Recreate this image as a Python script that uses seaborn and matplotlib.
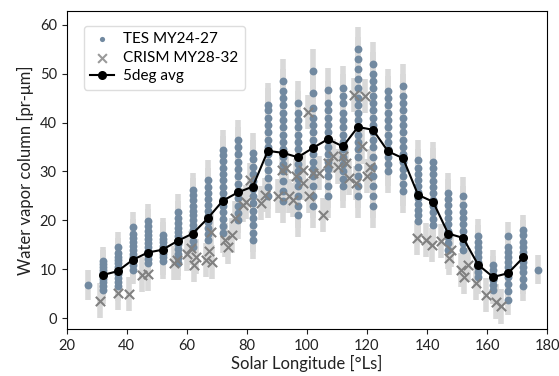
import numpy as np
import pandas as pd
import matplotlib
matplotlib.use("Agg")
import matplotlib.pyplot as plt
import seaborn as sns

# TES columns (Ls bin centre -> water vapor values)
tes_ls = [27, 32, 37, 42, 47, 52, 57, 62, 67, 72, 77, 82, 87, 92, 97, 102,
          107, 112, 117, 122, 127, 132, 137, 142, 147, 152, 157, 162, 167, 172, 177]
tes_wv = [
    [6.8],
    [5.8, 6.5, 7.3, 8.0, 8.6, 9.2, 9.8, 10.5, 11.0, 11.6],
    [6.5, 7.3, 8.2, 9.0, 9.8, 10.5, 11.2, 11.9, 12.6, 13.4, 14.6],
    [9.9, 10.8, 11.6, 12.4, 13.2, 14.0, 14.8, 15.6, 16.4, 17.3, 18.7],
    [11.2, 12.1, 13.0, 13.8, 14.6, 15.4, 16.2, 17.0, 17.8, 18.8, 19.8],
    [11.6, 12.4, 13.2, 14.0, 14.8, 15.5, 16.2, 17],
    [11.2, 12.2, 13.2, 14.2, 15.2, 16.0, 16.8, 17.6, 18.5, 19.5, 20.5, 21.8],
    [14.6, 15.8, 16.9, 18.0, 19.0, 20.0, 21.0, 22.0, 23.0, 24.2, 25.2, 26.2],
    [16, 17.2, 18.4, 19.6, 20.8, 22, 23.2, 24.4, 25.6, 26.8, 28.3],
    [17.4, 18.8, 20.2, 21.6, 23, 24.3, 25.6, 26.9, 28.2, 29.5, 30.8, 32.2, 33.3, 34.4],
    [20.1, 21.5, 23, 24.5, 26, 27.5, 29, 30.5, 32, 33.5, 35, 36.5],
    [16, 17.5, 19, 20.5, 22, 23.5, 25, 26.5, 28, 29.5, 31, 32.5, 33.8],
    [25, 26.8, 28.6, 30.3, 32, 33.5, 35, 36.5, 38, 39.5, 41, 42.5, 43.5],
    [24, 26, 28, 30, 31.5, 33, 34.5, 36, 37.5, 39, 40.5, 42, 43.5, 45, 46.5, 48.5],
    [21, 23, 25, 27, 28.5, 30, 31.5, 33, 34.5, 36, 37.5, 39, 40.5, 42, 44],
    [23, 25, 27, 29, 30.5, 32, 33.5, 35, 36.5, 38, 39.5, 41, 43, 46, 50.5],
    [25, 27, 29, 30.5, 32, 33.5, 35, 36.5, 38, 39.5, 41, 42.5, 44, 46.6],
    [27, 28.5, 30, 31.5, 33, 34.5, 36, 37.5, 39, 40.5, 42, 44, 45.5, 47],
    [25, 27, 29, 31, 33, 34.5, 36, 37.5, 39, 40.5, 42, 43.5, 45, 47, 49, 51, 53, 55],
    [23, 25, 27, 29, 31, 33, 35, 36.5, 38, 39.5, 41, 42.5, 44, 45.5, 47, 48.5, 50, 52],
    [30, 31.5, 33, 34.5, 36, 37.5, 39, 40.5, 42, 43.5, 45, 46.5],
    [26, 27.5, 29, 30.5, 32, 33.5, 35, 36.5, 38, 39.5, 41, 42.5, 44, 45.5, 47.5],
    [19.8, 21, 22.2, 23.4, 24.6, 25.8, 27, 28.2, 29.4, 30.6, 32.4],
    [19, 20.3, 21.6, 22.9, 24.2, 25.5, 26.8, 28.1, 29.4, 30.7, 32],
    [14, 15.3, 16.6, 17.9, 19.2, 20.5, 21.8, 23.1, 24.4, 25.6],
    [14, 15.3, 16.6, 17.9, 19.2, 20.5, 21.8, 23.1, 24.9],
    [8.5, 9.5, 10.5, 11.5, 12.5, 13.5, 14.5, 15.5, 16.7],
    [5.8, 6.8, 7.8, 8.8, 9.8, 10.9],
    [3.7, 5.5, 7, 8.5, 9.5, 10.5, 11.5, 12.5, 13.5, 14.5, 16.7],
    [6.5, 8, 9.5, 10.5, 11.5, 12.5, 13.5, 14.5, 15.5, 17, 18],
    [9.9],
]
tes_err = [3, 3, 3, 3, 3.5, 3.5, 3.5, 3.5, 4, 4, 4, 4, 4.5, 4.5, 4.5, 4.5,
           4.5, 4.5, 4.5, 4.5, 4.5, 4.5, 4, 4, 4, 4, 3.5, 3, 3, 3, 3]

# CRISM points
crism_ls = [31.2, 37.1, 40.8, 45.0, 47.2, 55.8, 56.8, 60.2, 61.5, 62.5, 63.2,
            66.5, 67.3, 68.5, 68.2, 72.6, 73.7, 75.0, 76.0, 78.7, 79.8, 81.0,
            84.8, 86.0, 90.3, 91.8, 93.1, 94.2, 95.3, 96.4, 98.6, 98.6, 100.3,
            100.8, 101.9, 104.1, 105.2, 106.9, 108.6, 110.2, 111.9, 113.0,
            114.1, 115.8, 116.5, 118.5, 119.2, 120.0, 121.0, 136.8, 139.6,
            141.8, 144.6, 147.4, 148.0, 151.3, 153.5, 152.4, 156.3, 159.6,
            162.9, 164.5]
crism_wv = [3.6, 5.1, 4.9, 8.9, 9.0, 11.3, 11.9, 13.1, 14.3, 10.8, 12.6,
            11.9, 13.8, 11.4, 17.7, 16.0, 14.6, 16.9, 20.5, 23.2, 23.8, 28.3,
            23.5, 25.2, 24.9, 30.3, 30.7, 24.9, 24.2, 29.0, 27.6, 30.3, 42.2,
            24.9, 29.6, 29.6, 21.1, 31.7, 33.1, 31.0, 33.1, 31.7,
            28.6, 45.6, 27.6, 35.1, 45.5, 29.0, 31.0, 16.4, 16.0,
            15.0, 15.7, 12.3, 14.0, 9.9, 10.9, 8.5, 7.2, 4.8,
            3.4, 2.4]
crism_err = 3.5

# 5 degree average
avg_ls = [32, 37, 42, 47, 52, 57, 62, 67, 72, 77, 82, 87, 92, 97, 102, 107,
          112, 117, 122, 127, 132, 137, 142, 147, 152, 157, 162, 167, 172]
avg_wv = [8.8, 9.6, 11.9, 13.4, 14.0, 15.8, 17.3, 20.4, 24.0, 25.7, 26.9,
          34.2, 33.8, 32.9, 34.8, 36.6, 35.1, 39.1, 38.5, 34.1, 32.7, 25.2,
          23.8, 17.3, 16.4, 10.9, 8.4, 9.2, 12.4]

tes = pd.DataFrame({
    "Ls": [ls for ls, col in zip(tes_ls, tes_wv) for _ in col],
    "wv": [v for col in tes_wv for v in col],
    "err": [e for e, col in zip(tes_err, tes_wv) for _ in col],
})
crism = pd.DataFrame({"Ls": crism_ls, "wv": crism_wv})
avg = pd.DataFrame({"Ls": avg_ls, "wv": avg_wv})

plt.rcParams["font.family"] = ["Lato", "DejaVu Sans"]

fig, ax = plt.subplots(figsize=(5.59, 3.76), dpi=100)
fig.subplots_adjust(left=0.119, right=0.979, top=0.972, bottom=0.124)

# error bars first (light grey)
ax.errorbar(tes["Ls"], tes["wv"], yerr=tes["err"], fmt="none",
            ecolor="#d9d9d9", elinewidth=4, capsize=0, zorder=1)
ax.errorbar(crism["Ls"], crism["wv"], yerr=crism_err, fmt="none",
            ecolor="#d9d9d9", elinewidth=4, capsize=0, zorder=1)

sns.scatterplot(data=tes, x="Ls", y="wv", ax=ax, color="#7189a0", s=32,
                linewidth=0, label="TES MY24-27", zorder=2)
sns.scatterplot(data=crism, x="Ls", y="wv", ax=ax, color="#808080", marker="x",
                s=45, linewidth=1.5, label="CRISM MY28-32", zorder=3)
sns.lineplot(data=avg, x="Ls", y="wv", ax=ax, color="black", marker="o",
             markersize=6.5, linewidth=1.5, markeredgewidth=0,
             label="5deg avg", zorder=4)

ax.set_xlim(20, 180)
ax.set_ylim(-2.3, 62.9)
ax.set_xticks(np.arange(20, 181, 20))
ax.set_yticks(np.arange(0, 61, 10))
ax.tick_params(labelsize=10.5, colors="#222222")
ax.set_xlabel("Solar Longitude [°Ls]", fontsize=12, color="#222222", labelpad=1)
ax.set_ylabel("Water vapor column [pr-μm]", fontsize=12, color="#222222", labelpad=4)

leg = ax.legend(loc="upper left", bbox_to_anchor=(0.02, 0.975), fontsize=11,
                handlelength=1.6, handletextpad=0.6,
                borderpad=0.4, labelspacing=0.3, framealpha=1,
                edgecolor="#dddddd")
# small dot for TES, lighter x for CRISM, like the original legend
leg.legend_handles[0].set_sizes([14])
leg.legend_handles[1].set_sizes([40])
leg.legend_handles[1].set_alpha(0.8)

fig.savefig("out.png", dpi=100)
